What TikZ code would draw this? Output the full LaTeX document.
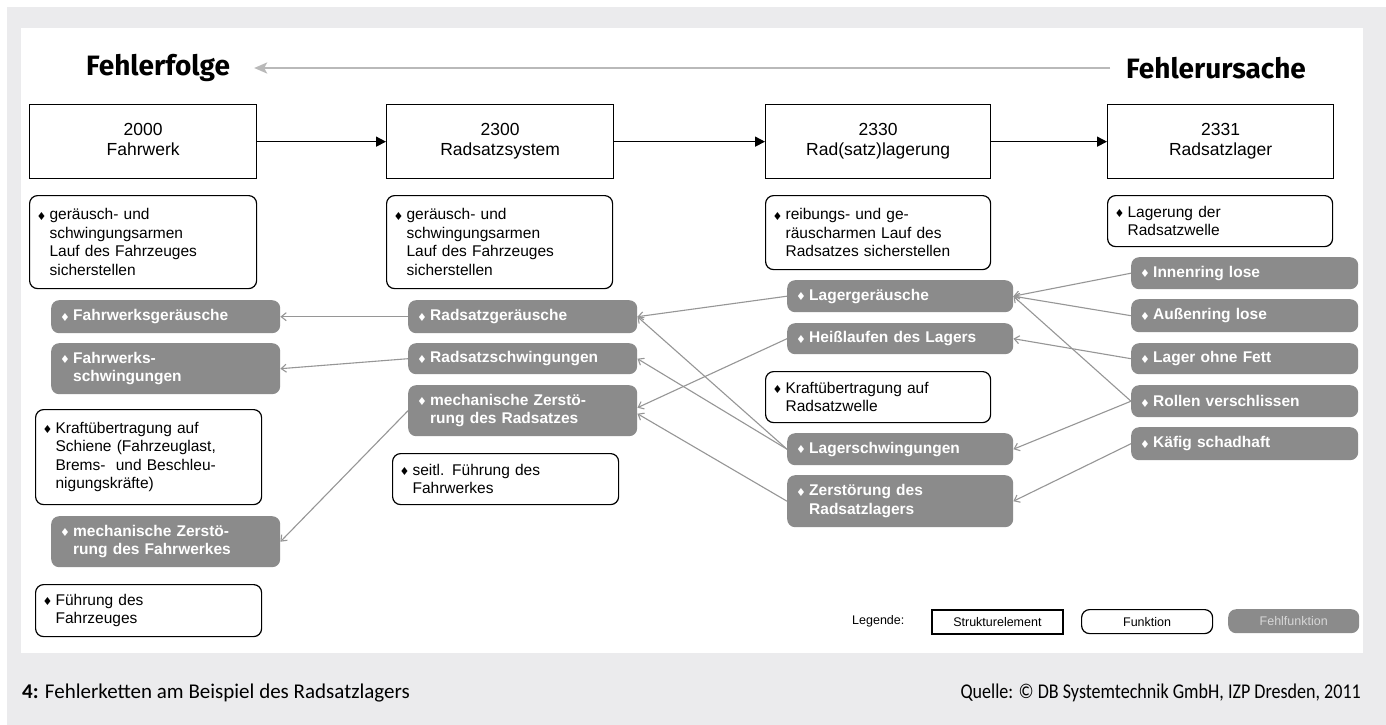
\documentclass[tikz,border=0pt]{standalone}
\usepackage{fontspec}
\setmainfont{Liberation Sans}
\newfontfamily\capfont{Carlito}
\newfontfamily\srcfont{Carlito}[FakeStretch=0.86]
\newfontfamily\headfont{Fira Sans}
\newfontfamily\symfont{DejaVu Sans}
\usetikzlibrary{arrows.meta}
\definecolor{bggray}{RGB}{235,235,237}
\definecolor{errgray}{RGB}{139,139,139}
\definecolor{linkgray}{RGB}{150,150,150}
\definecolor{topgray}{RGB}{185,185,185}
\definecolor{legtext}{RGB}{215,215,215}
\newcommand\bul{{\symfont\fontsize{11}{11}\selectfont\raisebox{-0.5pt}{♦}}}
\newcommand\itm[1]{\makebox[13pt][l]{\bul}\parbox[t]{195pt}{#1}}
\tikzset{
  sbox/.style={draw, line width=1.3pt, anchor=north west, minimum width=227pt, minimum height=74pt, inner sep=0pt, align=center, font=\fontsize{17.5}{20}\selectfont},
  fbox/.style={draw, line width=1.2pt, rounded corners=8pt, anchor=north west, text width=212pt, inner xsep=7pt, inner ysep=2pt, align=left, font=\fontsize{15.5}{18.5}\selectfont},
  ebox/.style={fill=errgray, draw=none, rounded corners=8pt, anchor=north west, text width=211pt, inner xsep=9pt, inner ysep=2pt, align=left, text=white, font=\bfseries\fontsize{15.5}{18.5}\selectfont},
  link/.style={draw=linkgray, line width=1.1pt, -{Straight Barb[length=5pt,width=8pt]}},
  sarrow/.style={draw=black, line width=1.5pt, -{Triangle[length=10pt,width=10pt]}},
  toparrow/.style={draw=topgray, line width=2pt, -{Stealth[length=13pt,width=11pt,inset=3pt]}},
  head/.style={inner sep=0pt, font=\headfont\bfseries\fontsize{28}{32}\selectfont},
  legbox/.style={anchor=north west, minimum width=131pt, minimum height=24pt, inner sep=0pt, font=\fontsize{12.5}{14}\selectfont}
}
\begin{document}
\begin{tikzpicture}[x=1pt,y=-1pt]
\useasboundingbox (0,0) rectangle (1386,725);
\fill[white] (0,0) rectangle (1386,725);
\fill[bggray] (7,7) rectangle (1386,725);
\fill[white] (21,28) rectangle (1363,653);

% headers
\node[head, anchor=west] (folge) at (86,68) {Fehlerfolge};
\node[head, anchor=west] (ursache) at (1126,68) {Fehlerursache};
\draw[toparrow, shorten <=16pt, shorten >=24pt] (ursache.west) -- (folge.east);

% structure elements
\node[sbox] (s1) at (29,104) {2000\\Fahrwerk\vphantom{y}};
\node[sbox] (s2) at (386,104) {2300\\Radsatzsystem};
\node[sbox, minimum width=225pt] (s3) at (765,104) {2330\\Rad(satz)lagerung};
\node[sbox, minimum width=226pt] (s4) at (1107,104) {2331\\Radsatzlager};
\draw[sarrow] (s1.east) -- (s2.west);
\draw[sarrow] (s2.east) -- (s3.west);
\draw[sarrow] (s3.east) -- (s4.west);

% column 1
\node[fbox, minimum height=93pt, text width=213pt] (f1a) at (29,195) {\itm{geräusch- und\\schwingungsarmen\\Lauf des Fahrzeuges\\sicherstellen}};
\node[ebox, minimum height=33pt] (e1a) at (51,300) {\itm{Fahrwerksgeräusche}};
\node[ebox, minimum height=51pt] (e1b) at (51,343) {\itm{Fahrwerks-\\schwingungen}};
\node[fbox, minimum height=95pt] (f1b) at (35,409) {\itm{Kraftübertragung auf\\Schiene (Fahrzeuglast,\\Brems-~ und Beschleu-\\nigungskräfte)}};
\node[ebox, minimum height=51pt] (e1c) at (51,516) {\itm{mechanische Zerstö-\\rung des Fahrwerkes}};
\node[fbox, minimum height=52pt] (f1c) at (35,584) {\itm{Führung des\\Fahrzeuges}};

% column 2
\node[fbox, minimum height=93pt] (f2a) at (386,195) {\itm{geräusch- und\\schwingungsarmen\\Lauf des Fahrzeuges\\sicherstellen}};
\node[ebox, minimum height=33pt] (e2a) at (408,300) {\itm{Radsatzgeräusche}};
\node[ebox, minimum height=31pt] (e2b) at (408,343) {\itm{Radsatzschwingungen}};
\node[ebox, minimum height=51pt] (e2c) at (408,385) {\itm{mechanische Zerstö-\\rung des Radsatzes}};
\node[fbox, minimum height=51pt] (f2b) at (392,453) {\itm{seitl. Führung des\\Fahrwerkes}};

% column 3
\node[fbox, minimum height=74pt, text width=211pt] (f3a) at (765,195) {\itm{reibungs- und ge-\\räuscharmen Lauf des\\Radsatzes sicherstellen}};
\node[ebox, minimum height=32pt, text width=208pt] (e3a) at (787,280) {\itm{Lagergeräusche}};
\node[ebox, minimum height=31pt, text width=208pt] (e3b) at (787,323) {\itm{Heißlaufen des Lagers}};
\node[fbox, minimum height=51pt, text width=211pt] (f3b) at (765,371) {\itm{Kraftübertragung auf\\Radsatzwelle}};
\node[ebox, minimum height=32pt, text width=208pt] (e3c) at (787,433) {\itm{Lagerschwingungen}};
\node[ebox, minimum height=52pt, text width=208pt] (e3d) at (787,475) {\itm{Zerstörung des\\Radsatzlagers}};

% column 4
\node[fbox, minimum height=51pt, text width=211pt] (f4a) at (1107,195) {\itm{Lagerung der\\Radsatzwelle}};
\node[ebox, minimum height=32pt, text width=209pt] (e4a) at (1131,257) {\itm{Innenring lose}};
\node[ebox, minimum height=33pt, text width=209pt] (e4b) at (1131,299) {\itm{Außenring lose}};
\node[ebox, minimum height=31pt, text width=209pt] (e4c) at (1131,343) {\itm{Lager ohne Fett}};
\node[ebox, minimum height=32pt, text width=209pt] (e4d) at (1131,385) {\itm{Rollen verschlissen}};
\node[ebox, minimum height=33pt, text width=209pt] (e4e) at (1131,427) {\itm{Käfig schadhaft}};

% failure links
\draw[link] (e2a.west) -- (e1a.east);
\draw[link] (e2b.west) -- (e1b.east);
\draw[link] (e2c.west) -- (e1c.east);
\draw[link] (e3a.west) -- (e2a.east);
\draw[link] (e3c.west) -- (e2a.east);
\draw[link] (e3c.west) -- (e2b.east);
\draw[link] (e3b.west) -- ([yshift=3pt]e2c.east);
\draw[link] (e3d.west) -- ([yshift=-3pt]e2c.east);
\draw[link] (e4a.west) -- (e3a.east);
\draw[link] (e4b.west) -- (e3a.east);
\draw[link] (e4d.west) -- (e3a.east);
\draw[link] (e4c.west) -- (e3b.east);
\draw[link] (e4d.west) -- (e3c.east);
\draw[link] (e4e.west) -- (e3d.east);

% legend
\node[anchor=west, inner sep=0pt, font=\fontsize{12.5}{14}\selectfont] (leg) at (852,621) {Legende:};
\node[legbox, draw, line width=1.8pt] (l1) at (931,609) {Strukturelement};
\node[legbox, draw, line width=1.2pt, rounded corners=8pt] (l2) at (1081,609) {Funktion};
\node[legbox, fill=errgray, rounded corners=8pt, text=legtext] (l3) at (1228,609) {Fehlfunktion};

% caption
\node[anchor=base west, inner sep=0pt, font=\capfont\fontsize{21}{24}\selectfont] (cap) at (22,698) {\textbf{4:} Fehlerketten am Beispiel des Radsatzlagers};
\node[anchor=base east, inner sep=0pt, font=\srcfont\fontsize{21}{24}\selectfont] (src) at (1361,698) {Quelle: ©~DB Systemtechnik GmbH, IZP Dresden, 2011};
\end{tikzpicture}
\end{document}
